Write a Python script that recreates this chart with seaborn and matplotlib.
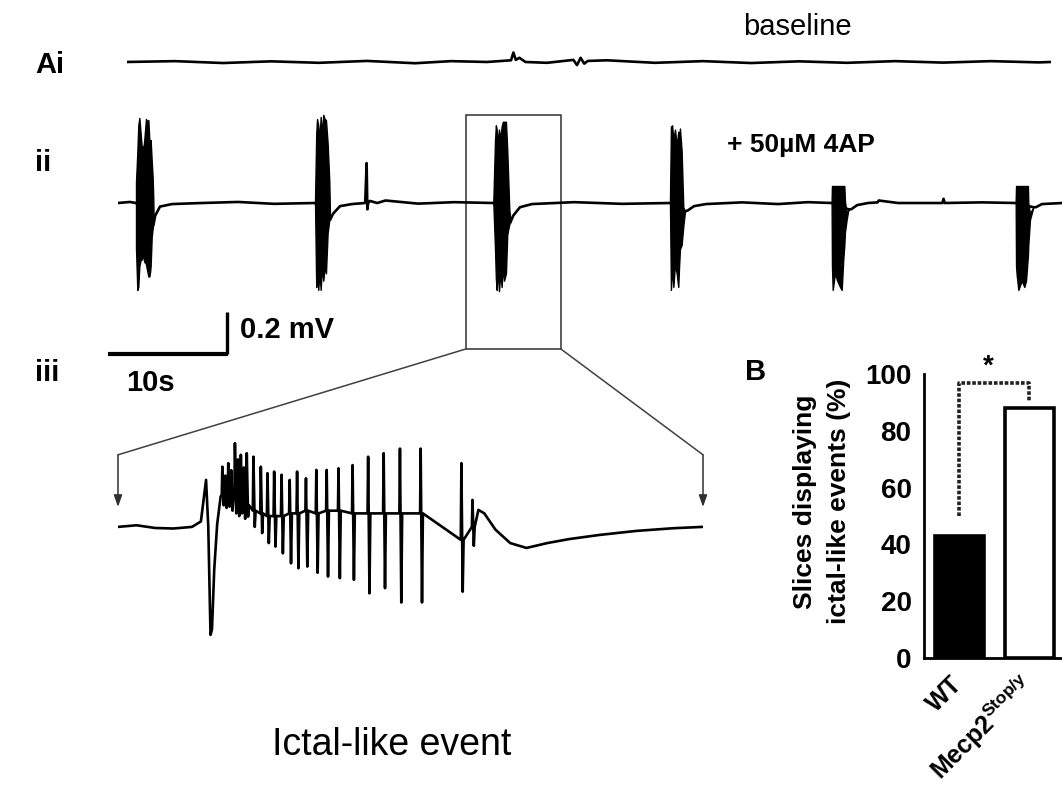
#! /usr/bin/env python3

import numpy as np
import matplotlib
matplotlib.use("Agg")
import matplotlib.pyplot as plt
from matplotlib import font_manager
from matplotlib.patches import Rectangle, ConnectionPatch
import seaborn as sns

# ---- data ----
# Ai: baseline recording (s, mV)
ai_t = [0, 4, 8, 12, 16, 20, 24, 27, 30, 32.0, 32.2, 32.4, 32.7, 33.2, 35, 37.2, 37.5,
        37.8, 38.1, 38.4, 40, 44, 48, 52, 56, 60, 64, 68, 72, 76, 77]
ai_v = [0, 0.004, -0.005, 0.003, -0.004, 0.005, -0.006, 0.004, 0.0, 0.008, 0.045, 0.01,
        0.02, 0.0, -0.004, 0.01, -0.015, 0.02, -0.008, 0.005, 0.008, -0.004, 0.004, -0.005,
        0.003, -0.004, 0.004, -0.003, 0.004, -0.002, 0.0]

# ii: + 4AP, inter-burst trace (s, mV)
ii_t = [0.0, 1.0, 1.5, 2.97, 3.1, 3.5, 4.5, 7.0, 10.0, 13.0, 16.42, 17.67, 17.94, 18.5,
        19.5, 20.6, 20.72, 20.78, 20.85, 21.0, 21.6, 22.3, 25.0, 28.0, 31.28, 32.72, 32.94,
        33.5, 34.5, 38.0, 42.0, 46.0, 47.25, 47.5, 48.0, 49.0, 52.0, 55.0, 57.5, 59.47,
        60.87, 61.1, 61.6, 62.5, 63.3, 63.4, 65.0, 68.7, 68.8, 68.9, 72.0, 74.81, 76.28,
        76.5, 77.0, 78.7]
ii_v = [0.0, 0.005, 0.0, -0.10, -0.06, -0.017, -0.005, 0.0, 0.005, -0.004, 0.0, -0.08,
        -0.05, -0.015, -0.005, 0.0, 0.19, -0.03, 0.0, 0.01, 0.0, 0.012, -0.003, 0.004, 0.0,
        -0.09, -0.06, -0.02, -0.005, 0.004, -0.004, 0.0, -0.04, -0.035, -0.015, -0.005,
        0.003, -0.005, 0.004, 0.0, -0.03, -0.03, -0.01, 0.0, 0.003, 0.012, 0.0, 0.0, 0.02,
        0.0, 0.003, 0.0, -0.02, -0.02, -0.005, 0.0]

# ii: burst envelopes (start time, offsets, upper, lower)
burst_start = [1.5, 16.42, 31.28, 46.0, 59.47, 74.81]
burst_dt = [
    [0, 0.11, 0.19, 0.28, 0.39, 0.47, 0.53, 0.61, 0.69, 0.83, 0.89, 1.03, 1.11, 1.17,
     1.22, 1.31, 1.39, 1.44, 1.47],
    [0, 0.1, 0.17, 0.27, 0.37, 0.47, 0.58, 0.69, 0.8, 0.91, 1.05, 1.19, 1.25],
    [0, 0.14, 0.21, 0.28, 0.37, 0.47, 0.58, 0.69, 0.79, 0.89, 1.05, 1.16, 1.33, 1.44],
    [0, 0.08, 0.18, 0.28, 0.42, 0.56, 0.69, 0.76, 0.83, 0.97, 1.11, 1.25],
    [0, 0.03, 0.09, 0.28, 0.47, 0.70, 0.84, 0.97, 1.06, 1.11, 1.25, 1.40],
    [0, 0.03, 0.08, 0.22, 0.50, 0.72, 0.86, 1.02, 1.05, 1.19, 1.47],
]
burst_up = [
    [0.10, 0.24, 0.37, 0.405, 0.33, 0.27, 0.27, 0.26, 0.30, 0.40, 0.39, 0.395, 0.30,
     0.28, 0.30, 0.20, 0.12, 0.02, -0.08],
    [0.01, 0.33, 0.40, 0.37, 0.30, 0.41, 0.33, 0.42, 0.40, 0.395, 0.285, 0.10, -0.07],
    [0.01, 0.30, 0.37, 0.35, 0.28, 0.35, 0.30, 0.364, 0.387, 0.387, 0.387, 0.25, -0.03, -0.09],
    [0.01, 0.364, 0.37, 0.30, 0.35, 0.27, 0.34, 0.30, 0.355, 0.25, -0.02, -0.04],
    [0.01, 0.081, 0.081, 0.081, 0.081, 0.081, 0.081, 0.081, 0.081, 0.01, -0.05, -0.03],
    [0.01, 0.081, 0.081, 0.081, 0.081, 0.081, 0.081, 0.081, 0.0, -0.05, -0.02],
]
burst_lo = [
    [-0.216, -0.414, -0.40, -0.30, -0.27, -0.27, -0.25, -0.26, -0.28, -0.29, -0.31, -0.35,
     -0.35, -0.33, -0.30, -0.16, -0.12, -0.105, -0.10],
    [0.0, -0.40, -0.30, -0.414, -0.33, -0.414, -0.30, -0.37, -0.30, -0.335, -0.143, -0.08, -0.08],
    [0.0, -0.22, -0.36, -0.414, -0.30, -0.42, -0.33, -0.40, -0.30, -0.37, -0.335, -0.15, -0.10, -0.09],
    [0.0, -0.414, -0.30, -0.40, -0.29, -0.335, -0.40, -0.30, -0.22, -0.20, -0.11, -0.04],
    [0.0, -0.30, -0.414, -0.335, -0.37, -0.40, -0.414, -0.27, -0.20, -0.14, -0.08, -0.03],
    [0.0, -0.30, -0.34, -0.414, -0.37, -0.40, -0.37, -0.25, -0.20, -0.08, -0.02],
]

# iii: expanded ictal-like event (s, mV)
iii_pre_t = [0.0, 0.25, 0.5, 0.75, 1.0, 1.12]
iii_pre_v = [0.0, 0.006, -0.004, -0.006, 0.0, 0.02]
iii_onset_t = [1.19, 1.22, 1.25, 1.27, 1.30, 1.34, 1.387]
iii_onset_v = [0.174, 0.0, -0.40, -0.38, -0.16, 0.01, 0.112]
spike_t = [1.41, 1.45, 1.49, 1.53, 1.58, 1.62, 1.66, 1.70, 1.74, 1.83, 1.93, 2.02, 2.11,
           2.21, 2.32, 2.42, 2.54, 2.68, 2.82, 2.98, 3.17, 3.38, 3.59, 3.81, 4.09, 4.64, 4.79]
spike_top = [0.223, 0.19, 0.236, 0.21, 0.31, 0.25, 0.267, 0.22, 0.273, 0.26, 0.223, 0.199,
             0.205, 0.193, 0.174, 0.205, 0.18, 0.211, 0.211, 0.217, 0.229, 0.26, 0.273,
             0.29, 0.29, 0.236, 0.10]
spike_bot = [0.08, 0.07, 0.075, 0.06, 0.05, 0.04, 0.05, 0.03, 0.038, 0.0, -0.023, -0.06,
             -0.073, -0.098, -0.135, -0.153, -0.147, -0.17, -0.184, -0.19, -0.196, -0.246,
             -0.227, -0.28, -0.28, -0.24, -0.07]
spike_mid = [0.12, 0.12, 0.11, 0.11, 0.10, 0.10, 0.09, 0.09, 0.08, 0.06, 0.05, 0.04, 0.04,
             0.04, 0.05, 0.05, 0.06, 0.05, 0.06, 0.06, 0.05, 0.05, 0.05, 0.05, 0.05,
             -0.048, 0.0]
iii_post_t = [4.87, 4.95, 5.1, 5.3, 5.52, 5.8, 6.1, 6.5, 7.0, 7.5, 7.9]
iii_post_v = [0.063, 0.05, -0.01, -0.06, -0.078, -0.06, -0.045, -0.03, -0.015, -0.005, 0.0]

# B: bar chart
groups = ["WT", "Mecp2"]
pct_ictal = [43, 88]
bar_colors = ["black", "white"]
tick_names = ["WT", r"Mecp2$^{\mathbf{Stop/y}}$"]

# ---- figure ----
W, H = 1062, 793
sns.set_style("white")
names = {f.name for f in font_manager.fontManager.ttflist}
narrow = "Liberation Sans Narrow" if "Liberation Sans Narrow" in names else "Liberation Sans"
plt.rcParams["font.family"] = ["Liberation Sans", "DejaVu Sans"]
plt.rcParams["mathtext.fontset"] = "custom"
plt.rcParams["mathtext.bf"] = "Liberation Sans:bold"
plt.rcParams["mathtext.rm"] = "Liberation Sans:bold"
for key in ["text.color", "axes.labelcolor", "xtick.color", "ytick.color"]:
    plt.rcParams[key] = "black"

fig = plt.figure(figsize=(W / 100, H / 100), dpi=100)


def px_axes(left, top, right, bottom):
    return fig.add_axes([left / W, 1 - bottom / H, (right - left) / W, (bottom - top) / H])


def px_text(x, y, s, **kw):
    fig.text(x / W, 1 - y / H, s, **kw)


# Ai
ax_a = px_axes(127, 40, 1051, 85)
sns.lineplot(x=ai_t, y=ai_v, sort=False, estimator=None, color="black", linewidth=1.9, ax=ax_a)
ax_a.set_xlim(0, 77)
ax_a.set_ylim(-0.11, 0.105)
ax_a.axis("off")

# ii
ax_b = px_axes(118, 110, 1062, 300)
sns.lineplot(x=ii_t, y=ii_v, sort=False, estimator=None, color="black", linewidth=1.9, ax=ax_b)
for t0, dt, up, lo in zip(burst_start, burst_dt, burst_up, burst_lo):
    tt = t0 + np.array(dt)
    ax_b.fill_between(tt, lo, up, color="black", linewidth=1.0, edgecolor="black")
ax_b.set_xlim(0, 78.67)
ax_b.set_ylim(-0.462, 0.443)
ax_b.axis("off")

# zoom box around third burst
box = Rectangle((29.0, -0.695), 7.9, 1.114, fill=False, edgecolor="#303030",
                linewidth=1.1, clip_on=False)
ax_b.add_patch(box)

# scale bars: 10 s and 0.2 mV
ax_b.plot([-0.83, 9.17], [-0.719, -0.719], color="black", linewidth=3.0,
          solid_capstyle="butt", clip_on=False)
ax_b.plot([9.1, 9.1], [-0.719, -0.519], color="black", linewidth=2.4,
          solid_capstyle="butt", clip_on=False)

# iii
iii_t = list(iii_pre_t) + list(iii_onset_t)
iii_v = list(iii_pre_v) + list(iii_onset_v)
for t, top, bot, mid in zip(spike_t, spike_top, spike_bot, spike_mid):
    iii_t += [t - 0.008, t, t + 0.018, t + 0.03]
    iii_v += [mid, top, bot, mid]
iii_t += iii_post_t
iii_v += iii_post_v

ax_c = px_axes(118, 400, 703, 650)
sns.lineplot(x=iii_t, y=iii_v, sort=False, estimator=None, color="black", linewidth=1.9, ax=ax_c)
ax_c.set_xlim(0, 7.905)
ax_c.set_ylim(-0.456, 0.470)
ax_c.axis("off")

for xb, xc in [(29.0, 0.0), (36.9, 7.905)]:
    con = ConnectionPatch(xyA=(xb, -0.695), coordsA=ax_b.transData,
                          xyB=(xc, 0.267), coordsB=ax_c.transData,
                          color="#404040", linewidth=1.1)
    fig.add_artist(con)
    ax_c.annotate("", xy=(xc, 0.074), xytext=(xc, 0.267), annotation_clip=False,
                  arrowprops=dict(arrowstyle="-|>,head_length=0.7,head_width=0.25",
                                  color="#303030", linewidth=1.1, shrinkA=0, shrinkB=0))

# B: bar chart
ax_d = px_axes(924, 374, 1062, 658)
sns.barplot(x=groups, y=pct_ictal, hue=groups, palette=bar_colors, edgecolor="black",
            linewidth=2.6, width=0.7, legend=False, ax=ax_d)
ax_d.set_xlim(-0.5, 1.471)
ax_d.set_ylim(0, 100)
ax_d.set_yticks([0, 20, 40, 60, 80, 100])
ax_d.set_yticklabels(["0", "20", "40", "60", "80", "100"], fontsize=20, fontweight="bold")
ax_d.set_xticks([0, 1])
ax_d.set_xticklabels(tick_names, fontsize=18, fontweight="bold", rotation=45,
                     ha="right", va="center", rotation_mode="anchor")
ax_d.tick_params(axis="both", length=6, width=2, direction="out", color="black", pad=3)
ax_d.tick_params(axis="x", pad=10)
sns.despine(ax=ax_d)
for side in ["left", "bottom"]:
    ax_d.spines[side].set_linewidth(2)
    ax_d.spines[side].set_color("black")
ax_d.set_ylabel("Slices displaying\nictal-like events (%)", fontsize=19, fontweight="bold",
                linespacing=1.5)
ax_d.yaxis.set_label_coords(-0.53, 0.55)

# significance bracket
ax_d.plot([0, 0, 1, 1], [50, 97, 97, 90], color="#202020", linewidth=2.6,
          linestyle=(0, (1, 0.5)), clip_on=False)
ax_d.text(0.42, 98, "*", ha="center", va="bottom", fontsize=20, fontweight="bold")

# labels
px_text(35, 65, "Ai", fontsize=21, fontweight="bold", ha="left", va="center")
px_text(35, 163, "ii", fontsize=21, fontweight="bold", ha="left", va="center")
px_text(35, 373, "iii", fontsize=21, fontweight="bold", ha="left", va="center")
px_text(745, 372, "B", fontsize=21, fontweight="bold", ha="left", va="center")
px_text(797, 27, "baseline", fontsize=21, family=narrow, ha="center", va="center")
px_text(727, 145, "+ 50µM 4AP", fontsize=19, fontweight="bold", family=narrow,
        ha="left", va="center")
px_text(240, 330, "0.2 mV", fontsize=21, fontweight="bold", family=narrow,
        ha="left", va="center")
px_text(150, 383, "10s", fontsize=21, fontweight="bold", family=narrow,
        ha="center", va="center")
px_text(392, 745, "Ictal-like event", fontsize=27, ha="center", va="center")

plt.savefig("out.png", dpi=100)
